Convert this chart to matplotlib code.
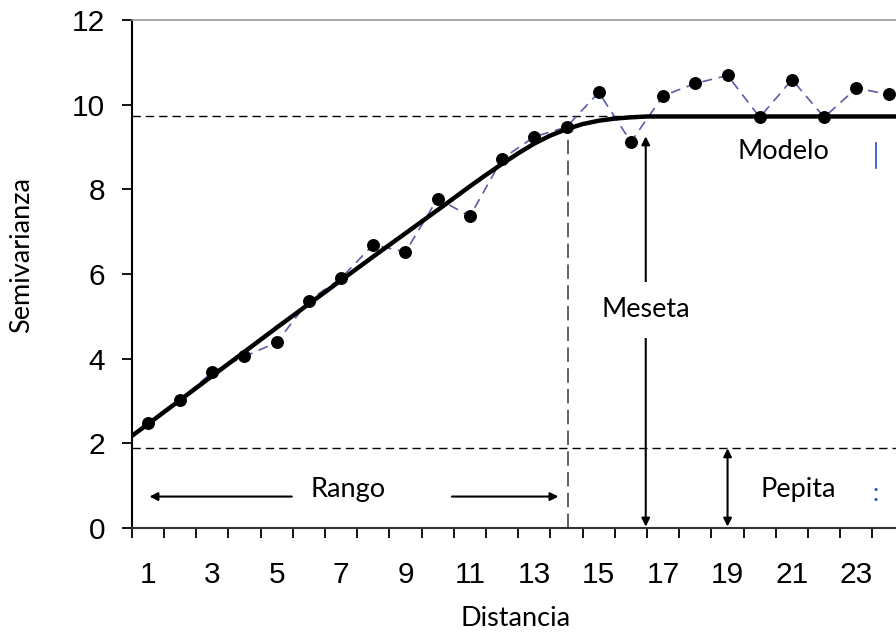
import matplotlib
matplotlib.use("Agg")
import matplotlib.pyplot as plt

# experimental semivariogram (lag classes 1..24)
lags = list(range(1, 25))
semivar = [2.48, 3.02, 3.68, 4.05, 4.38, 5.37, 5.90, 6.69, 6.52, 7.78, 7.36, 8.72,
           9.24, 9.47, 10.29, 9.12, 10.21, 10.50, 10.69, 9.70, 10.59, 9.70, 10.39, 10.24]

# fitted model
model_x = [0.5, 1, 2, 3, 4, 5, 6, 7, 8, 9, 10, 10.5, 11, 11.5, 12, 12.5, 13, 13.5,
           14, 14.5, 15, 15.5, 16, 16.5, 24.3]
model_y = [2.17, 2.45, 3.02, 3.59, 4.16, 4.73, 5.29, 5.85, 6.41, 6.96, 7.51, 7.79,
           8.07, 8.34, 8.6, 8.85, 9.08, 9.27, 9.42, 9.54, 9.62, 9.67, 9.70, 9.72, 9.72]

sill = 9.72
nugget = 1.88
rango = 14.05
x_ticks = [1, 3, 5, 7, 9, 11, 13, 15, 17, 19, 21, 23]
y_ticks = [0, 2, 4, 6, 8, 10, 12]

text_font = "Lato"
tick_font = "Liberation Sans"
fs = 19.5

fig = plt.figure(figsize=(8.96, 6.36), dpi=100)
ax = fig.add_axes([0.147, 0.17, 0.853, 0.7986])
ax.set_xlim(0.5, 24.23)
ax.set_ylim(0, 12)

# reference lines
ax.axhline(sill, color="black", lw=1.0, dashes=(6, 3.6), zorder=1)
ax.axhline(nugget, color="black", lw=1.0, dashes=(6, 3.6), zorder=1)
ax.plot([rango, rango], [0, 9.47], color="#555555", lw=1.3, dashes=(8, 3.5), zorder=1)

# data and model
ax.plot(lags, semivar, color="#5b5ea6", lw=1.2, dashes=(6, 4), zorder=2)
ax.plot(model_x, model_y, color="black", lw=3.2, solid_capstyle="round", zorder=3)
ax.plot(lags, semivar, "o", color="black", ms=8.3, zorder=4)

# arrows
arrow = dict(arrowstyle="<|-|>", color="black", lw=1.5, mutation_scale=12,
             shrinkA=0, shrinkB=0)
ax.annotate("", xy=(16.46, 9.25), xytext=(16.46, 0.03), arrowprops=arrow, zorder=2)
ax.annotate("", xy=(19.0, nugget), xytext=(19.0, 0.03), arrowprops=arrow, zorder=2)
one = dict(arrowstyle="-|>", color="black", lw=1.5, mutation_scale=12,
           shrinkA=0, shrinkB=0)
ax.annotate("", xy=(1.05, 0.74), xytext=(5.47, 0.74), arrowprops=one)
ax.annotate("", xy=(13.75, 0.74), xytext=(10.44, 0.74), arrowprops=one)

ax.text(16.46, 5.15, "Meseta", family=text_font, fontsize=fs, ha="center", va="center",
        bbox=dict(facecolor="white", edgecolor="none", pad=11), zorder=5)
ax.text(7.23, 0.9, "Rango", family=text_font, fontsize=fs, ha="center", va="center")
ax.text(21.2, 0.9, "Pepita", family=text_font, fontsize=fs, ha="center", va="center")
ax.text(20.74, 8.9, "Modelo", family=text_font, fontsize=fs, ha="center", va="center")
ax.plot([23.6, 23.6], [8.5, 9.1], color="#1f4fc8", lw=1.2)
ax.text(23.6, 0.82, ":", family=text_font, fontsize=18, color="#1f4fc8",
        ha="center", va="center")

# axes styling
ax.spines["right"].set_visible(False)
ax.spines["top"].set_color("#9a9a9a")
ax.spines["top"].set_linewidth(1.2)
ax.spines["left"].set_linewidth(1.5)
ax.spines["bottom"].set_linewidth(1.5)
ax.spines["bottom"].set_color("#333333")

ax.set_yticks(y_ticks)
ax.tick_params(axis="y", length=7, width=1.3, pad=12, labelsize=21.5)
ax.set_xticks(x_ticks)
ax.set_xticks([k + 0.5 for k in range(0, 24)], minor=True)
ax.tick_params(axis="x", which="major", length=0, pad=24, labelsize=21.5)
ax.tick_params(axis="x", which="minor", length=7, width=1.3)
for lab in ax.get_xticklabels() + ax.get_yticklabels():
    lab.set_family(tick_font)

fig.text(22 / 896, 1 - 255 / 636, "Semivarianza", family=text_font, fontsize=fs,
         rotation=90, ha="center", va="center")
fig.text(516 / 896, 1 - 618 / 636, "Distancia", family=text_font, fontsize=fs,
         ha="center", va="center")

fig.savefig("out.png", dpi=100)
